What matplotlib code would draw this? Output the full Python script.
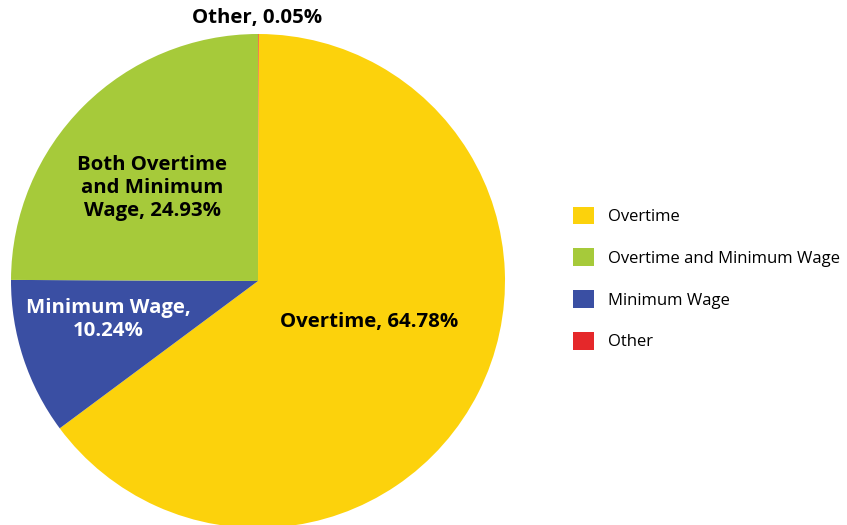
import matplotlib
matplotlib.use("Agg")
import matplotlib.pyplot as plt
from matplotlib.patches import Patch

plt.rcParams['font.family'] = ['Open Sans', 'DejaVu Sans']

# slices in drawing order, clockwise from 12 o'clock
slice_names = ["Other", "Overtime", "Minimum Wage", "Both Overtime and Minimum Wage"]
slice_values = [0.05, 64.78, 10.24, 24.93]
slice_colors = ["#E5282A", "#FCD20C", "#3A4FA3", "#A6CA3A"]

legend_names = ["Overtime", "Overtime and Minimum Wage", "Minimum Wage", "Other"]
legend_colors = ["#FCD20C", "#A6CA3A", "#3A4FA3", "#E5282A"]

W, H = 847, 525
fig = plt.figure(figsize=(W / 100, H / 100), dpi=100)

cx, cy, r = 258, 281, 247
ax = fig.add_axes([(cx - r) / W, (H - cy - r) / H, 2 * r / W, 2 * r / H])
ax.pie(slice_values, colors=slice_colors, startangle=90, counterclock=False,
       radius=1, wedgeprops=dict(linewidth=0))
ax.set_xlim(-1, 1)
ax.set_ylim(-1, 1)
ax.set_aspect('equal')
ax.axis('off')


def px(x, y):
    # pixel position -> pie data coordinates
    return (x - cx) / r, (cy - y) / r


labels = [
    (f"Other, {slice_values[0]:.2f}%", 257, 18, "black"),
    (f"Overtime, {slice_values[1]:.2f}%", 369, 322, "black"),
    (f"Minimum Wage,\n{slice_values[2]:.2f}%", 108, 320, "white"),
    (f"Both Overtime\nand Minimum\nWage, {slice_values[3]:.2f}%", 152, 188, "black"),
]
for text, x, y, color in labels:
    dx, dy = px(x, y)
    ax.text(dx, dy, text, ha='center', va='center', color=color,
            fontsize=14.7, fontweight='bold', linespacing=1.2, clip_on=False)

handles = [Patch(facecolor=c, edgecolor='none') for c in legend_colors]
fig.legend(handles, legend_names, loc='center left',
           bbox_to_anchor=(565 / W, 1 - 278.5 / H), frameon=False,
           fontsize=12, handlelength=1.25, handleheight=1.25,
           handletextpad=0.8, labelspacing=1.4, borderpad=0)

fig.savefig("out.png", dpi=100)
